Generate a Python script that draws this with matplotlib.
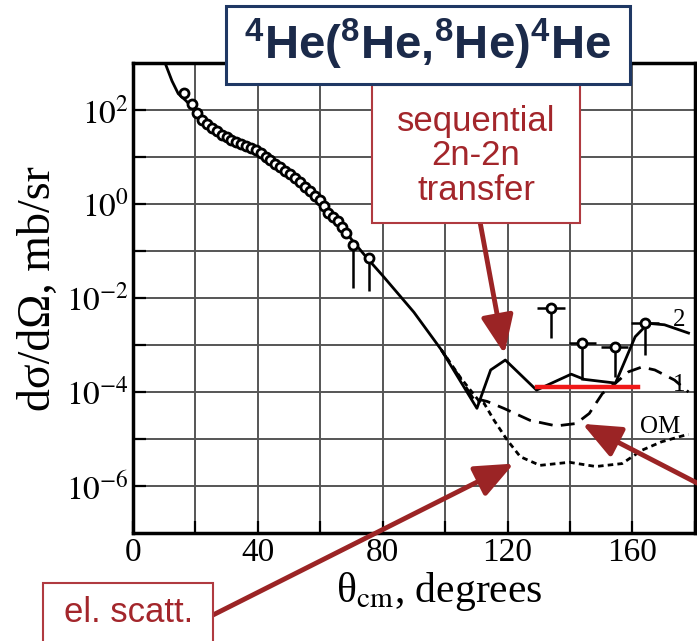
import numpy as np
import matplotlib
matplotlib.use("Agg")
from matplotlib import pyplot as plt
from matplotlib.patches import Rectangle

plt.rcParams['mathtext.fontset'] = 'stix'
plt.rcParams['mathtext.bf'] = 'Liberation Sans:bold'
plt.rcParams['mathtext.rm'] = 'Liberation Sans:bold'
plt.rcParams['mathtext.it'] = 'Liberation Sans:bold'

# measured elastic cross section (open circles)
el_theta = [16.3, 18.9, 20.5, 22.1, 23.6, 25.2, 26.8, 28.4, 30.0, 31.5, 33.1,
            34.7, 36.3, 37.9, 39.4, 41.0, 42.5, 44.0, 45.6, 47.1, 48.7, 50.3,
            51.9, 53.5, 55.1, 56.8, 58.3, 59.9, 61.2, 62.6, 64.2, 65.7, 67.0, 68.4]
el_sigma = [234, 132, 89, 63, 50, 42, 35.5, 30, 26.3, 23, 20.9,
            18.6, 17, 15.8, 14.0, 12.0, 10.2, 8.6, 7.2, 6.1, 5.1, 4.3,
            3.6, 2.9, 2.35, 1.86, 1.51, 1.23, 0.89, 0.65, 0.52, 0.43, 0.32, 0.24]

# points with error bars
eb_theta = [70.4, 75.7, 134.0, 144.0, 154.3, 164.0]
eb_sigma = [0.135, 0.071, 6.0e-3, 1.12e-3, 9.3e-4, 2.9e-3]
eb_low = [0.016, 0.0138, 1.38e-3, 1.8e-4, 2.1e-4, 6.2e-4]
eb_dtheta = [1.5, 1.5, 4.4, 4.4, 4.4, 4.4]

# curve 2 (solid)
c2_theta = [10.3, 12.5, 14.5, 17, 19, 22, 25, 30, 35, 40, 45, 50, 55, 60, 65,
            70, 75, 80, 90, 98.8, 105, 110.2, 114.6, 119.3, 129.3, 140.4,
            144.6, 154.6, 160.9, 165.1, 170.3, 178]
c2_sigma = [1000, 417, 224, 158, 112, 63, 42, 27, 19, 13.2, 7.6, 4.3, 2.4, 1.2,
            0.5, 0.178, 0.071, 0.030, 5.0e-3, 7.9e-4, 1.66e-4, 4.5e-5, 2.95e-4,
            4.8e-4, 1.1e-4, 2.4e-4, 1.86e-4, 1.55e-4, 1.5e-3, 2.9e-3, 2.7e-3,
            1.8e-3]

# curve 1 (dashed)
c1_theta = [98.8, 105, 110.2, 111.5, 113.5, 118.8, 127.2, 135.6, 142.0, 146.2,
            150.4, 154.6, 158.8, 163.0, 167.2, 173.5, 178]
c1_sigma = [7.9e-4, 1.9e-4, 5.5e-5, 6.8e-5, 6.3e-5, 4.5e-5, 2.5e-5, 1.9e-5,
            2.14e-5, 3.5e-5, 9.3e-5, 1.55e-4, 2.7e-4, 3.4e-4, 2.95e-4, 1.8e-4,
            1.0e-4]

# OM curve (dotted)
om_theta = [98.8, 105, 111, 112.5, 115.7, 119.9, 124.1, 130.4, 139.8, 148.3,
            156.7, 163.0, 169.3, 176.7, 178]
om_sigma = [7.9e-4, 2.0e-4, 6.3e-5, 5.75e-5, 2.5e-5, 9.5e-6, 4.2e-6, 2.75e-6,
            3.2e-6, 2.6e-6, 3.0e-6, 5.75e-6, 8.7e-6, 1.2e-5, 1.25e-5]

# red level of sequential transfer
red_theta = [129.3, 161.9]
red_sigma = [1.29e-4, 1.29e-4]

fig = plt.figure(figsize=(6.97, 6.41), dpi=100)
ax = fig.add_axes([0.1908, 0.1685, 0.806, 0.733])

ax.set_yscale('log')
ax.set_xlim(0, 178)
ax.set_ylim(1e-7, 1e3)

ax.plot(c2_theta, c2_sigma, color='black', lw=2, zorder=3)
ax.plot(c1_theta, c1_sigma, color='black', lw=2, ls=(0, (5, 3)), zorder=3)
ax.plot(om_theta, om_sigma, color='black', lw=2, ls=(0, (2, 1.5)), zorder=3)
ax.plot(red_theta, red_sigma, color='#f01818', lw=3.2, zorder=4)

ax.plot(el_theta, el_sigma, 'o', ms=6.5, mfc='white', mec='black', mew=2, zorder=5)
lower = np.array(eb_sigma) - np.array(eb_low)
ax.errorbar(eb_theta, eb_sigma, xerr=eb_dtheta, yerr=[lower, np.zeros(len(lower))],
            fmt='o', ms=6.5, mfc='white', mec='black', mew=2, ecolor='black',
            elinewidth=1.8, capsize=0, zorder=5)

# ticks and grid
ax.set_xticks(np.arange(0, 181, 20), minor=False)
ax.set_xticklabels(['0', '', '40', '', '80', '', '120', '', '160', ''])
ax.set_yticks([1e-6, 1e-4, 1e-2, 1e0, 1e2])
ax.set_yticklabels([r'$10^{-6}$', r'$10^{-4}$', r'$10^{-2}$', r'$10^{0}$', r'$10^{2}$'])
ax.set_yticks([1e-5, 1e-3, 1e-1, 1e1], minor=True)
ax.set_yticklabels([], minor=True)
ax.tick_params(axis='both', which='both', direction='in', length=9, width=1.6,
               labelsize=24, pad=3)
ax.tick_params(axis='x', which='minor', bottom=False)
for lab in ax.get_xticklabels() + ax.get_yticklabels():
    lab.set_family('Liberation Serif')
ax.grid(True, which='both', color='#555555', lw=1.4)
for s in ax.spines.values():
    s.set_linewidth(2.5)

ax.set_xlabel('θ$_{\\mathrm{cm}}$, degrees', family='Liberation Serif', fontsize=30,
              labelpad=2, x=0.545)
ax.set_ylabel('dσ/dΩ, mb/sr', family='Liberation Serif', fontsize=33, labelpad=4,
              y=0.52)

ax.text(175, 10**-2.47, '2', family='Liberation Serif', fontsize=18, ha='center',
        va='center', zorder=6)
ax.text(175, 10**-3.85, '1', family='Liberation Serif', fontsize=18, ha='center',
        va='center', zorder=6)
ax.text(169, 10**-4.74, 'OM', family='Liberation Serif', fontsize=18, ha='center',
        va='center', zorder=6)

red = '#a3262b'
arrow_red = '#9b2425'

# boxes drawn in figure coordinates
fig.patches.append(Rectangle((0.534, 0.652), 0.298, 0.215, transform=fig.transFigure,
                             fc='white', ec='#b03a40', lw=1.5, zorder=10))
fig.text(0.683, 0.757, 'sequential\n2n-2n\ntransfer', family='Liberation Sans',
         fontsize=25, color=red, ha='center', va='center', linespacing=1.05, zorder=11)

fig.patches.append(Rectangle((0.324, 0.869), 0.580, 0.1217, transform=fig.transFigure,
                             fc='white', ec='#1f3864', lw=2.2, zorder=12))
fig.text(0.614, 0.930, r'${}^{4}$He(${}^{8}$He,${}^{8}$He)${}^{4}$He',
         family='Liberation Sans', fontweight='bold', math_fontfamily='custom',
         fontsize=34, color='#1b2a4a', ha='center', va='center', zorder=13)

fig.patches.append(Rectangle((0.0617, -0.01), 0.244, 0.1005, transform=fig.transFigure,
                             fc='white', ec='#b03a40', lw=1.5, zorder=10))
fig.text(0.184, 0.045, 'el. scatt.', family='Liberation Sans', fontsize=25,
         color=red, ha='center', va='center', zorder=11)

aprops = dict(arrowstyle='-|>,head_length=1.3,head_width=0.55', color=arrow_red,
              lw=3.5, mutation_scale=18, shrinkA=0, shrinkB=0)
ax.annotate('', xy=(119, 6.5e-4), xycoords='data', xytext=(0.689, 0.652),
            textcoords='figure fraction', arrowprops=aprops, annotation_clip=False,
            zorder=9)
ax.annotate('', xy=(122, 3.0e-6), xycoords='data', xytext=(0.3056, 0.0406),
            textcoords='figure fraction', arrowprops=aprops, annotation_clip=False,
            zorder=9)
ax.annotate('', xy=(144, 2.1e-5), xycoords='data', xytext=(1.0, 0.2465),
            textcoords='figure fraction', arrowprops=aprops, annotation_clip=False,
            zorder=9)

fig.savefig('out.png', dpi=100)
